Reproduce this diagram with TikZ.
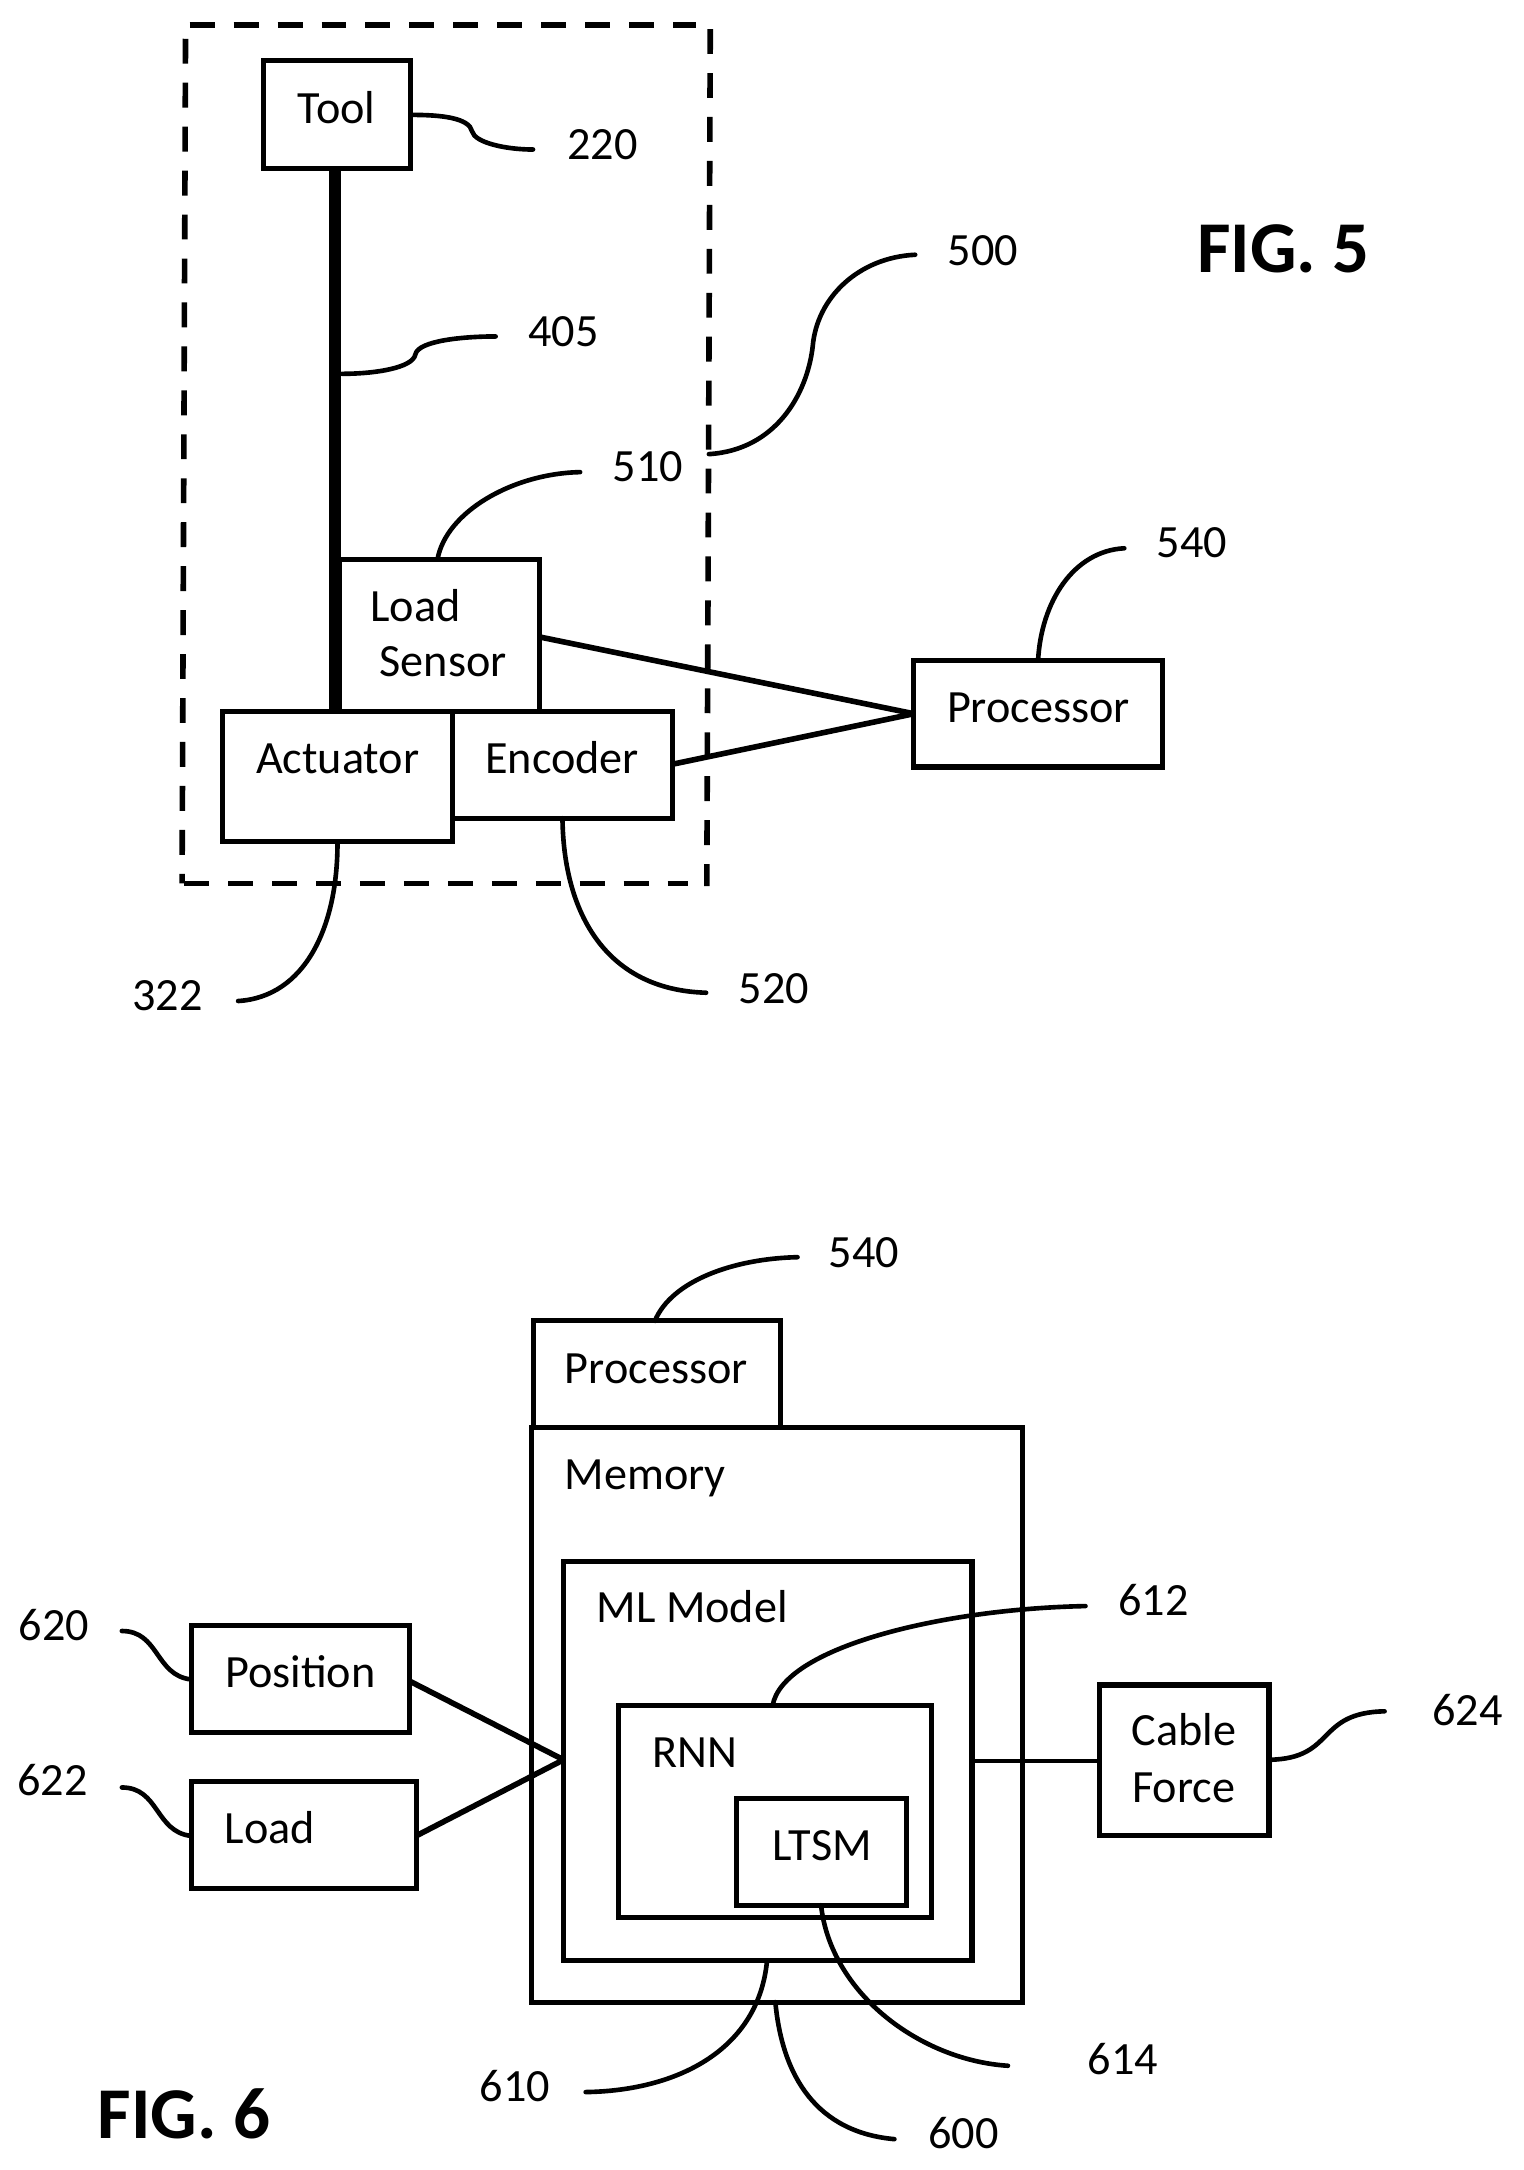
\documentclass[tikz,border=0pt]{standalone}
\usepackage{fontspec}
\setmainfont{Carlito}
\tikzset{
  boxs/.style={draw=black,line width=2.1pt,rectangle,inner sep=0pt,outer sep=0pt,line join=miter},
  lbl/.style={inner sep=0pt,outer sep=0pt,font=\fontsize{19}{23}\selectfont,text height=12pt,text depth=0pt,text=black},
  figlbl/.style={inner sep=0pt,outer sep=0pt,font=\fontsize{30}{36}\selectfont\bfseries,text height=19pt,text depth=0pt,text=black},
  lead/.style={draw=black,line width=1.9pt,line cap=round},
  wire/.style={draw=black,line width=2.3pt},
  shaft/.style={draw=black,line width=4.7pt},
  dashline/.style={draw=black,line width=2.3pt,dash pattern=on 0.36cm off 0.275cm}
}
\newcommand{\boxn}[5]{\node[boxs,minimum width={(#4-#2)*0.02cm},minimum height={(#5-#3)*0.02cm}] (#1) at ({(#2+#4)/2},{(#3+#5)/2}) {};}
\begin{document}
\begin{tikzpicture}[x=0.02cm,y=-0.02cm]
\useasboundingbox (0,0) rectangle (1100,1567.3);
% --- FIG 5 ---
\coordinate (dtl) at (137,18);
\coordinate (dtr) at (503,18);
\coordinate (drt) at (513,21);
\coordinate (drb) at (510.5,640);
\coordinate (dbl) at (133,638);
\coordinate (dbr) at (497,638);
\coordinate (dlt) at (134,28);
\coordinate (dlb) at (131.5,638);
\draw[dashline] (dtl) -- (dtr);
\draw[dashline] (drt) -- (drb);
\draw[dashline] (dbl) -- (dbr);
\draw[dashline] (dlt) -- (dlb);

\boxn{tool}{190}{44}{296.5}{122}
\boxn{ls}{245}{404}{389.5}{514}
\boxn{act}{161}{514}{326.5}{608}
\boxn{enc}{327}{514}{485.5}{591}
\boxn{proc}{660}{477}{839.5}{554}

\coordinate (shafttop) at (242,122);
\coordinate (shaftbot) at (242,514);
\draw[shaft] (shafttop) -- (shaftbot);
\coordinate (lsw) at (389.5,460);
\coordinate (encw) at (485.5,552);
\draw[wire] (lsw) -- (proc.west);
\draw[wire] (encw) -- (proc.west);

\node[lbl] (tTool) at (243,79) {Tool};
\node[lbl] (t220) at (435,104.5) {220};
\node[lbl] (t405) at (407,239.5) {405};
\node[lbl] (t510) at (468,337) {510};
\node[lbl] (t500) at (710,181) {500};
\node[lbl] (t540a) at (861,392) {540};
\node[lbl] (tLoadA) at (300,438) {Load};
\node[lbl] (tSensor) at (320,478) {Sensor};
\node[lbl] (tAct) at (244,548) {Actuator};
\node[lbl] (tEnc) at (406,548) {Encoder};
\node[lbl] (tProcA) at (750,511) {Processor};
\node[lbl] (t322) at (121,719) {322};
\node[lbl] (t520) at (559,714) {520};
\node[figlbl] (fig5) at (927,180) {FIG. 5};

\coordinate (a220) at (298,83);
\coordinate (e220) at (385,108);
\draw[lead] (a220) .. controls (318,83) and (339,85) .. (341,95) .. controls (343,103) and (365,108) .. (e220);
\coordinate (a405) at (247,270);
\coordinate (e405) at (358,243);
\draw[lead] (a405) .. controls (270,270) and (298,266) .. (300,256) .. controls (302,246) and (335,243) .. (e405);
\coordinate (e510) at (419,341);
\draw[lead] (316,404) .. controls (322,370) and (370,342) .. (e510);
\coordinate (a500) at (512,328);
\coordinate (e500) at (661,184);
\draw[lead] (a500) .. controls (560,325) and (583,285) .. (587,250) .. controls (590,215) and (620,186) .. (e500);
\coordinate (e540a) at (812,396);
\draw[lead] (proc.north) .. controls (752,435) and (775,398) .. (e540a);
\coordinate (e322) at (172,723);
\draw[lead] (act.south) .. controls (244,670) and (220,720) .. (e322);
\coordinate (e520) at (510,717);
\draw[lead] (enc.south) .. controls (407,660) and (438,715) .. (e520);

% --- FIG 6 ---
\boxn{procb}{385}{954}{563.5}{1031}
\boxn{mem}{384}{1031}{738.5}{1446}
\boxn{ml}{407}{1128}{702}{1416}
\boxn{rnn}{447}{1232}{672.5}{1385}
\boxn{ltsm}{532}{1299}{654.5}{1376}
\boxn{pos}{138}{1174}{295.5}{1251}
\boxn{load}{138}{1287}{300.5}{1364}
\boxn{cable}{794}{1217}{916.5}{1326}

\coordinate (posw) at (295.5,1214);
\coordinate (loadw) at (300.5,1326);
\coordinate (mlw) at (407,1271);
\coordinate (mle) at (702,1272);
\coordinate (cabw) at (794,1272);
\draw[wire] (posw) -- (mlw);
\draw[wire] (loadw) -- (mlw);
\draw[lead] (mle) -- (cabw);

\node[lbl] (t540b) at (624,905) {540};
\node[lbl] (tProcB) at (474,989) {Processor};
\node[lbl] (tMem) at (466,1065) {Memory};
\node[lbl] (tML) at (500,1161) {ML Model};
\node[lbl] (t612) at (833,1156) {612};
\node[lbl] (tRNN) at (502,1266) {RNN};
\node[lbl] (tLTSM) at (594,1333) {LTSM};
\node[lbl] (tPos) at (217,1208) {Position};
\node[lbl] (tLoadB) at (195,1321) {Load};
\node[lbl] (tCable) at (855,1250) {Cable};
\node[lbl] (tForce) at (855,1291) {Force};
\node[lbl] (t620) at (39,1174) {620};
\node[lbl] (t622) at (38,1286) {622};
\node[lbl] (t624) at (1060,1236) {624};
\node[lbl] (t610) at (372,1507) {610};
\node[lbl] (t614) at (811,1488) {614};
\node[lbl] (t600) at (696,1541) {600};
\node[figlbl] (fig6) at (133,1528) {FIG. 6};

\coordinate (e540b) at (576,908);
\draw[lead] (473,954) .. controls (485,925) and (530,909) .. (e540b);
\coordinate (e620) at (88,1178);
\draw[lead] (e620) .. controls (115,1178) and (112,1210) .. (138,1213);
\coordinate (e622) at (88,1291);
\draw[lead] (e622) .. controls (115,1291) and (112,1323) .. (138,1326);
\coordinate (e624) at (1000,1236);
\draw[lead] (917,1271) .. controls (965,1270) and (950,1237) .. (e624);
\coordinate (e612) at (784,1160);
\draw[lead] (558,1232) .. controls (565,1190) and (680,1162) .. (e612);
\coordinate (e614) at (728,1492);
\draw[lead] (593,1376) .. controls (600,1440) and (665,1488) .. (e614);
\coordinate (e610) at (423,1511);
\draw[lead] (554,1416) .. controls (548,1480) and (490,1510) .. (e610);
\coordinate (e600) at (646,1545);
\draw[lead] (560,1446) .. controls (565,1500) and (590,1540) .. (e600);
\end{tikzpicture}
\end{document}
